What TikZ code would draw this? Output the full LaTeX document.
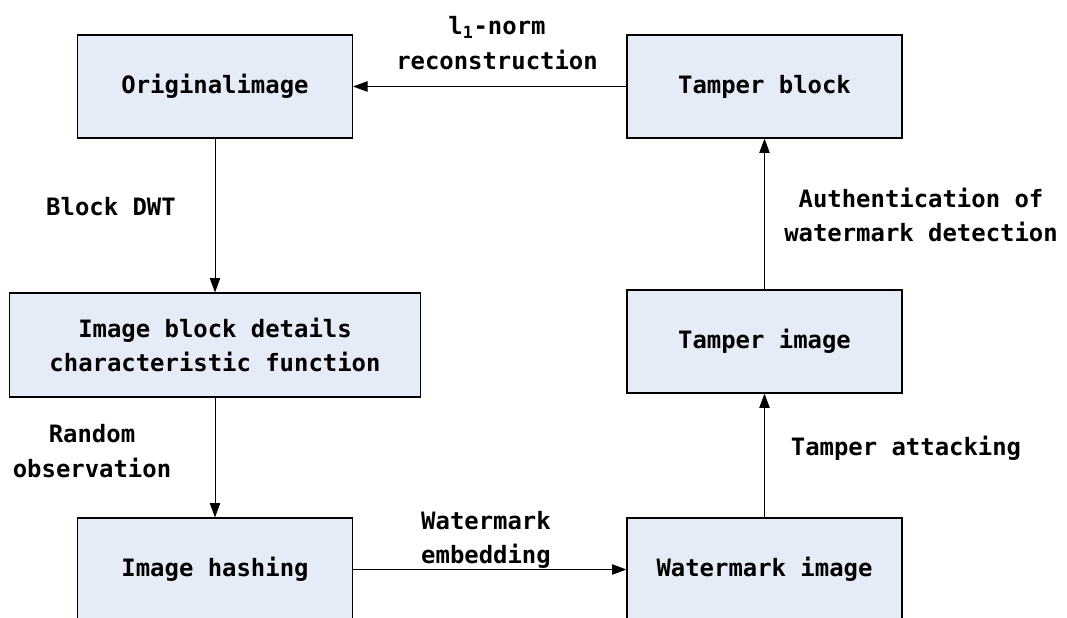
\documentclass[tikz,border=0pt]{standalone}
\usepackage{fontspec}
\setmainfont{DejaVu Sans Mono}
\usepackage{tikz}
\usetikzlibrary{arrows.meta, positioning}
\definecolor{boxblue}{HTML}{E6ECF7}
\tikzset{
	blocknode/.style={
			rectangle,
			draw=black,
			line width=0.8pt,
			fill=boxblue,
			minimum width=6.875cm,
			minimum height=2.575cm,
			inner sep=0pt,
			align=center,
			font=\fontsize{17}{24.5}\selectfont\bfseries
		},
	widenode/.style={
			blocknode,
			minimum width=10.275cm,
			minimum height=2.6cm
		},
	flowarrow/.style={
			line width=0.6pt,
			-{Triangle[length=3.6mm, width=2.6mm]}
		}
}
\tikzset{
	edgelabel/.style={align=center, inner sep=0pt, font=\fontsize{17}{24.5}\selectfont\bfseries}
}

\begin{document}
\begin{tikzpicture}[x=0.025cm, y=-0.025cm]
\useasboundingbox (0,0) rectangle (1067,618);

\node[blocknode] (orig) at (215,86.5) {Originalimage};
\node[blocknode] (tblock) at (764.5,86.5) {Tamper block};
\node[widenode] (details) at (215,345) {Image block details\\characteristic function};
\node[blocknode] (timage) at (764.5,341.5) {Tamper image};
\node[blocknode] (hashing) at (215,569.5) {Image hashing};
\node[blocknode] (wimage) at (764.5,569.5) {Watermark image};

\draw[flowarrow] (orig) -- (details);
\draw[flowarrow] (details) -- (hashing);
\draw[flowarrow] (hashing) -- (wimage);
\draw[flowarrow] (wimage) -- (timage);
\draw[flowarrow] (timage) -- (tblock);
\draw[flowarrow] (tblock) -- (orig);

\node[edgelabel] (l1norm) at (497,43) {l\textsubscript{1}-norm\\reconstruction};
\node[edgelabel] (dwt) at (111,207) {Block DWT};
\node[edgelabel] (random) at (92,451) {Random\\observation};
\node[edgelabel] (embed) at (486,540) {Watermark\\embedding};
\node[edgelabel] (auth) at (921,215) {Authentication of\\watermark detection};
\node[edgelabel] (attack) at (906,448) {Tamper attacking};
\end{tikzpicture}
\end{document}
